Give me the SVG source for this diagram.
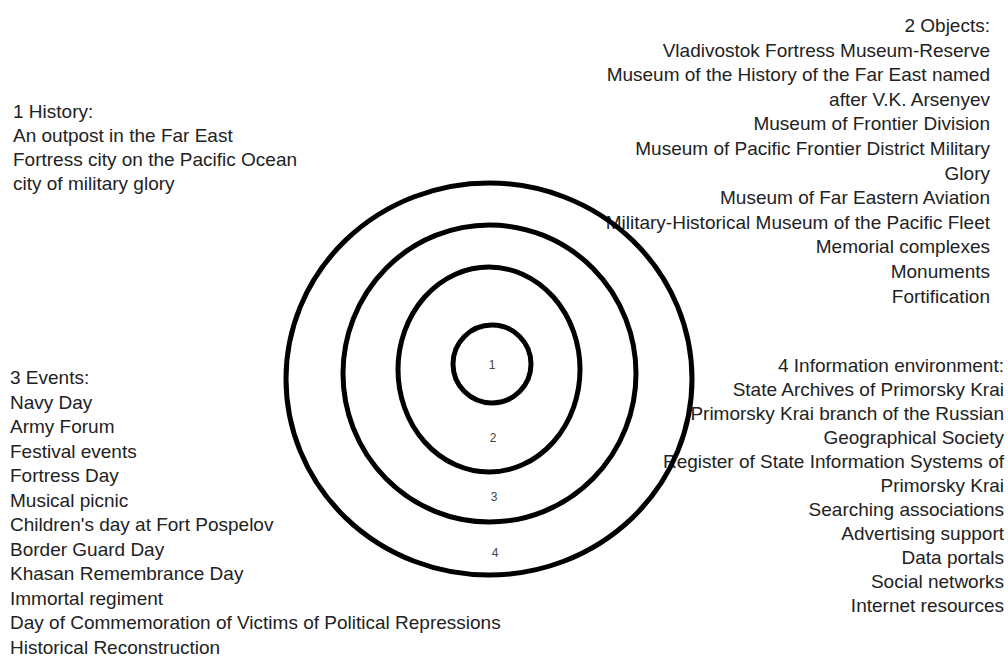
<svg xmlns="http://www.w3.org/2000/svg" width="1008" height="659" viewBox="0 0 1008 659">
<style>
.t{font-family:"Liberation Sans",Arial,sans-serif;font-size:19px;fill:#222}
.r{text-anchor:end}
.ring{fill:none;stroke:#000;stroke-width:5}
.n{font-family:"Liberation Sans",Arial,sans-serif;font-size:12px;fill:#444;text-anchor:middle}
</style>
<rect width="1008" height="659" fill="#fff"/>
<g id="history" class="t">
<text x="13" y="118">1 History:</text>
<text x="13" y="142">An outpost in the Far East</text>
<text x="13" y="166">Fortress city on the Pacific Ocean</text>
<text x="13" y="190">city of military glory</text>
</g>
<g id="objects" class="t r">
<text x="990" y="32">2 Objects:</text>
<text x="990" y="56.6">Vladivostok Fortress Museum-Reserve</text>
<text x="990" y="81.2">Museum of the History of the Far East named</text>
<text x="990" y="105.8">after V.K. Arsenyev</text>
<text x="990" y="130.4">Museum of Frontier Division</text>
<text x="990" y="155">Museum of Pacific Frontier District Military</text>
<text x="990" y="179.6">Glory</text>
<text x="990" y="204.2">Museum of Far Eastern Aviation</text>
<text x="990" y="228.8">Military-Historical Museum of the Pacific Fleet</text>
<text x="990" y="253.4">Memorial complexes</text>
<text x="990" y="278">Monuments</text>
<text x="990" y="302.6">Fortification</text>
</g>
<g id="events" class="t">
<text x="10" y="384">3 Events:</text>
<text x="10" y="408.5">Navy Day</text>
<text x="10" y="433">Army Forum</text>
<text x="10" y="457.5">Festival events</text>
<text x="10" y="482">Fortress Day</text>
<text x="10" y="506.5">Musical picnic</text>
<text x="10" y="531">Children's day at Fort Pospelov</text>
<text x="10" y="555.5">Border Guard Day</text>
<text x="10" y="580">Khasan Remembrance Day</text>
<text x="10" y="604.5">Immortal regiment</text>
<text x="10" y="629">Day of Commemoration of Victims of Political Repressions</text>
<text x="10" y="653.5">Historical Reconstruction</text>
</g>
<g id="information" class="t r">
<text x="1004" y="372">4 Information environment:</text>
<text x="1004" y="396">State Archives of Primorsky Krai</text>
<text x="1004" y="420">Primorsky Krai branch of the Russian</text>
<text x="1004" y="444">Geographical Society</text>
<text x="1004" y="468">Register of State Information Systems of</text>
<text x="1004" y="492">Primorsky Krai</text>
<text x="1004" y="516">Searching associations</text>
<text x="1004" y="540">Advertising support</text>
<text x="1004" y="564">Data portals</text>
<text x="1004" y="588">Social networks</text>
<text x="1004" y="612">Internet resources</text>
</g>
<g id="ring4">
<ellipse class="ring" cx="489" cy="379" rx="203" ry="196"/>
<text class="n" x="495" y="557">4</text>
</g>
<g id="ring3">
<ellipse class="ring" cx="489.5" cy="373.5" rx="146.5" ry="148.5"/>
<text class="n" x="494" y="501">3</text>
</g>
<g id="ring2">
<ellipse class="ring" cx="489" cy="369.5" rx="91" ry="102.5"/>
<text class="n" x="493" y="442">2</text>
</g>
<g id="ring1">
<ellipse class="ring" cx="492" cy="364" rx="39" ry="39"/>
<text class="n" x="492" y="369">1</text>
</g>
<g id="connectors"/>
</svg>
